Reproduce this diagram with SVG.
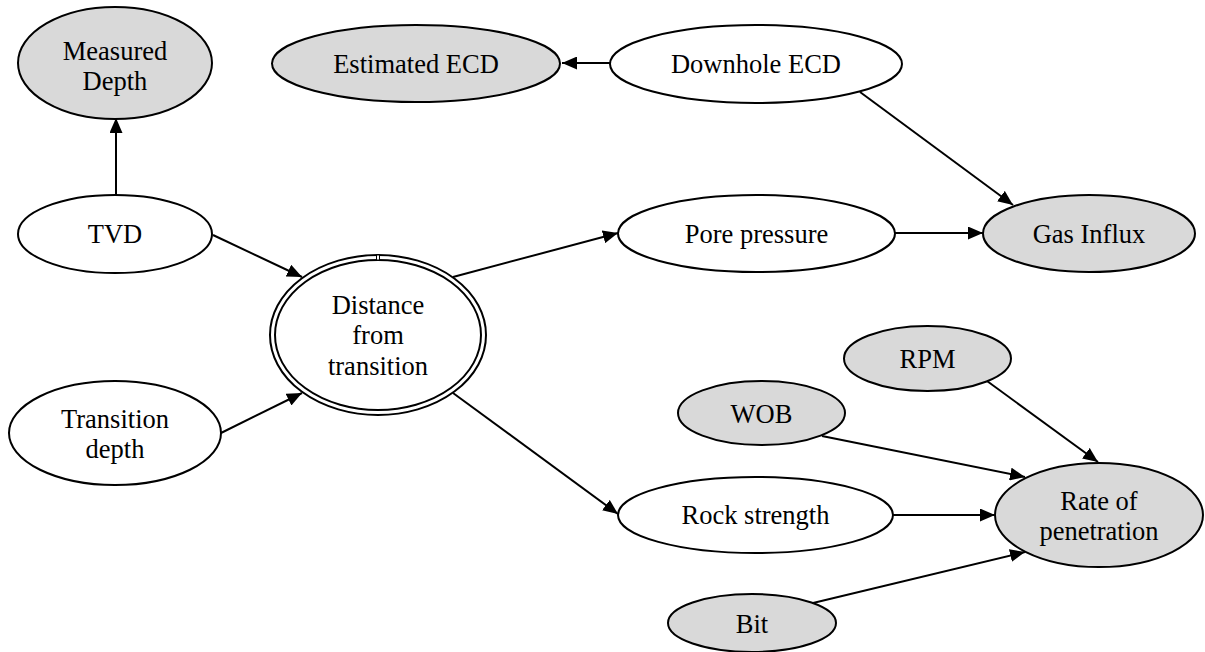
<svg xmlns="http://www.w3.org/2000/svg" width="1205" height="652" viewBox="0 0 1205 652">
  <style>
    .node ellipse { stroke: #000; stroke-width: 2; }
    .obs { fill: #d9d9d9; }
    .hid { fill: #fff; }
    text { font-family: "Liberation Serif", "Times New Roman", Tinos, "DejaVu Serif", serif; font-size: 26.5px; fill: #000; text-anchor: middle; }
    .edge { stroke: #000; stroke-width: 2; fill: none; marker-end: url(#arrow); }
  </style>
  <defs>
    <marker id="arrow" markerUnits="userSpaceOnUse" markerWidth="16" markerHeight="13" refX="15" refY="6.5" orient="auto">
      <path d="M0,0 L15,6.5 L0,13 z" fill="#000"/>
    </marker>
  </defs>
  <rect width="1205" height="652" fill="#fff"/>

  <!-- connectors -->
  <g id="edges">
    <line class="edge" x1="610" y1="63" x2="562" y2="63"/>
    <line class="edge" x1="860" y1="92" x2="1013" y2="205"/>
    <line class="edge" x1="116" y1="195" x2="116" y2="118"/>
    <line class="edge" x1="213" y1="235" x2="302" y2="277"/>
    <line class="edge" x1="221" y1="433" x2="302" y2="393"/>
    <line class="edge" x1="453" y1="277" x2="618" y2="233"/>
    <line class="edge" x1="895" y1="233" x2="983" y2="233"/>
    <line class="edge" x1="453" y1="393" x2="618" y2="514"/>
    <line class="edge" x1="893" y1="515" x2="995" y2="515"/>
    <line class="edge" x1="822" y1="436" x2="1025" y2="477"/>
    <line class="edge" x1="987" y1="381" x2="1098" y2="462"/>
    <line class="edge" x1="813" y1="603" x2="1025" y2="552"/>
  </g>

  <g font-family="Liberation Serif, serif">
  <g id="measured-depth" class="node">
    <ellipse class="obs" cx="115" cy="63" rx="97" ry="56"/>
    <text x="115" y="60">Measured</text>
    <text x="115" y="90">Depth</text>
  </g>
  <g id="estimated-ecd" class="node">
    <ellipse class="obs" cx="416" cy="63.5" rx="144" ry="38.5"/>
    <text x="416" y="72.5">Estimated ECD</text>
  </g>
  <g id="downhole-ecd" class="node">
    <ellipse class="hid" cx="756" cy="64" rx="146" ry="39"/>
    <text x="756" y="73">Downhole ECD</text>
  </g>
  <g id="tvd" class="node">
    <ellipse class="hid" cx="115" cy="234" rx="97" ry="39"/>
    <text x="115" y="243">TVD</text>
  </g>
  <g id="distance-from-transition" class="node">
    <ellipse class="hid" cx="378" cy="335" rx="108" ry="80"/>
    <ellipse class="hid" cx="378" cy="335" rx="103" ry="75"/>
    <rect x="376.5" y="255" width="3" height="5" fill="#fff" stroke="#000" stroke-width="1"/>
    <text x="378" y="314">Distance</text>
    <text x="378" y="344">from</text>
    <text x="378" y="375">transition</text>
  </g>
  <g id="pore-pressure" class="node">
    <ellipse class="hid" cx="756.5" cy="233.5" rx="138.5" ry="38.5"/>
    <text x="756.5" y="242.5">Pore pressure</text>
  </g>
  <g id="gas-influx" class="node">
    <ellipse class="obs" cx="1089" cy="233.5" rx="106" ry="38.5"/>
    <text x="1089" y="242.5">Gas Influx</text>
  </g>
  <g id="transition-depth" class="node">
    <ellipse class="hid" cx="115" cy="433" rx="106" ry="52"/>
    <text x="115" y="428">Transition</text>
    <text x="115" y="458">depth</text>
  </g>
  <g id="rpm" class="node">
    <ellipse class="obs" cx="927.5" cy="358.5" rx="83.5" ry="32.5"/>
    <text x="927.5" y="368">RPM</text>
  </g>
  <g id="wob" class="node">
    <ellipse class="obs" cx="761.5" cy="413" rx="83.5" ry="32"/>
    <text x="761.5" y="422.5">WOB</text>
  </g>
  <g id="rock-strength" class="node">
    <ellipse class="hid" cx="755.5" cy="515" rx="137.5" ry="38"/>
    <text x="755.5" y="524">Rock strength</text>
  </g>
  <g id="rate-of-penetration" class="node">
    <ellipse class="obs" cx="1099" cy="515" rx="104" ry="52"/>
    <text x="1099" y="510">Rate of</text>
    <text x="1099" y="540">penetration</text>
  </g>
  <g id="bit" class="node">
    <ellipse class="obs" cx="752" cy="623" rx="84" ry="29"/>
    <text x="752" y="633">Bit</text>
  </g>
  </g>
</svg>
